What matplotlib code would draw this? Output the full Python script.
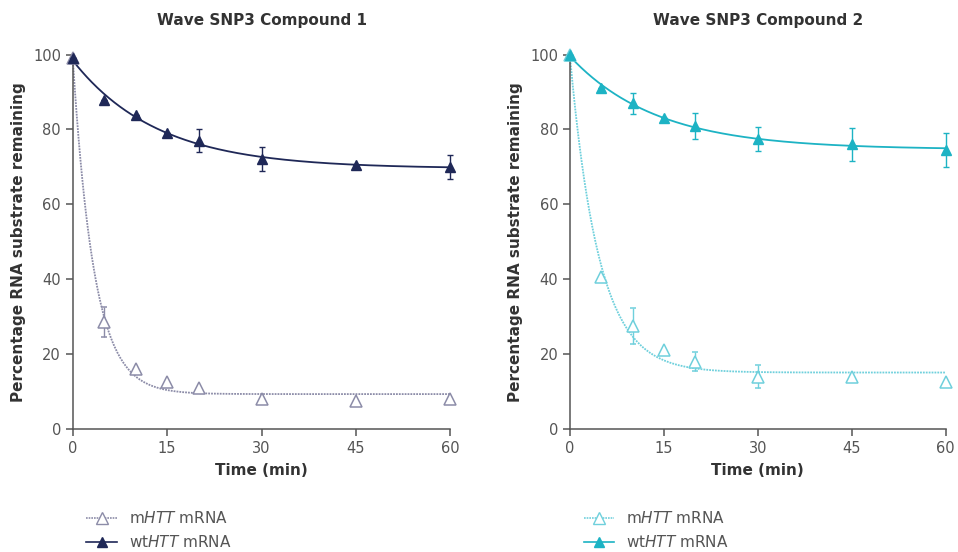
import numpy as np
import matplotlib.pyplot as plt
from matplotlib.lines import Line2D

plt.rcParams['font.family'] = 'DejaVu Sans'
plt.rcParams['mathtext.fontset'] = 'dejavusans'

time_min = [0, 5, 10, 15, 20, 30, 45, 60]

# Compound 1
c1_mhtt = [99, 28.5, 16, 12.5, 11, 8, 7.5, 8]
c1_mhtt_err = [0, 4, 0, 0, 0, 0, 0, 0]
c1_wt = [99, 88, 84, 79, 77, 72, 70.5, 70]
c1_wt_err = [0, 0, 0, 0, 3, 3.2, 0, 3.2]

# Compound 2
c2_mhtt = [100, 40.5, 27.5, 21, 18, 14, 14, 12.5]
c2_mhtt_err = [0, 0, 4.8, 0, 2.5, 3, 0, 0]
c2_wt = [100, 91, 87, 83, 81, 77.5, 76, 74.5]
c2_wt_err = [0, 0, 2.8, 0, 3.5, 3.3, 4.5, 4.5]

titles = ['Wave SNP3 Compound 1', 'Wave SNP3 Compound 2']
legend_labels = [r'm$\it{HTT}$ mRNA', r'wt$\it{HTT}$ mRNA']


def one_phase_fit(t, y):
    """Least squares fit of y = plateau + span*exp(-k t), grid over k."""
    t = np.asarray(t, float)
    y = np.asarray(y, float)
    best = None
    for k in np.linspace(0.005, 1.5, 3000):
        A = np.column_stack([np.ones_like(t), np.exp(-k * t)])
        coef, *_ = np.linalg.lstsq(A, y, rcond=None)
        res = np.sum((A @ coef - y) ** 2)
        if best is None or res < best[0]:
            best = (res, k, coef)
    _, k, (plateau, span) = best
    return lambda tt: plateau + span * np.exp(-k * tt)


fig = plt.figure(figsize=(9.58, 5.52), dpi=100)
ax1 = fig.add_axes([0.076, 0.223, 0.394, 0.678])
ax2 = fig.add_axes([0.595, 0.223, 0.392, 0.678])

panels = [
    (ax1, c1_mhtt, c1_mhtt_err, c1_wt, c1_wt_err, '#8c8ca8', '#1f2857'),
    (ax2, c2_mhtt, c2_mhtt_err, c2_wt, c2_wt_err, '#6fd0dc', '#1db3c4'),
]

tt = np.linspace(0, 60, 400)
for i, (ax, m, me, w, we, cm, cw) in enumerate(panels):
    fm = one_phase_fit(time_min, m)
    fw = one_phase_fit(time_min, w)
    ax.plot(tt, fm(tt), color=cm, lw=1.3, ls=(0, (1, 0.6)), clip_on=False)
    ax.plot(tt, fw(tt), color=cw, lw=1.3, clip_on=False)
    ax.errorbar(time_min, m, yerr=me, fmt='^', ms=8, mfc='white', mec=cm,
                mew=1.1, ecolor=cm, elinewidth=1, capsize=2.5, capthick=1,
                clip_on=False, zorder=3)
    ax.errorbar(time_min, w, yerr=we, fmt='^', ms=7, mfc=cw, mec=cw,
                ecolor=cw, elinewidth=1, capsize=2.5, capthick=1,
                clip_on=False, zorder=4)

    ax.set_xlim(0, 60)
    ax.set_ylim(0, 100)
    ax.set_xticks([0, 15, 30, 45, 60])
    ax.set_yticks([0, 20, 40, 60, 80, 100])
    for s in ['top', 'right']:
        ax.spines[s].set_visible(False)
    for s in ['left', 'bottom']:
        ax.spines[s].set_color('#555555')
        ax.spines[s].set_linewidth(1.1)
    ax.tick_params(colors='#555555', labelsize=10.5, length=5, width=1.1)
    ax.set_title(titles[i], fontsize=11, fontweight='bold', color='#333333', pad=21)
    ax.set_xlabel('Time (min)', fontsize=11, fontweight='bold', color='#333333', labelpad=5)
    ax.set_ylabel('Percentage RNA substrate remaining', fontsize=11,
                  fontweight='bold', color='#333333', labelpad=5)

    handles = [
        Line2D([], [], color=cm, ls=(0, (1, 0.6)), lw=1.2, marker='^', ms=8,
               mfc='white', mec=cm),
        Line2D([], [], color=cw, lw=1.2, marker='^', ms=7, mfc=cw, mec=cw),
    ]
    leg = ax.legend(handles, legend_labels, loc='upper left',
                    bbox_to_anchor=(0.02, -0.2), frameon=False, fontsize=11,
                    handlelength=2.0, handletextpad=0.8, labelspacing=0.55,
                    borderaxespad=0)
    for txt in leg.get_texts():
        txt.set_color('#555555')

fig.savefig('out.png', dpi=100)
